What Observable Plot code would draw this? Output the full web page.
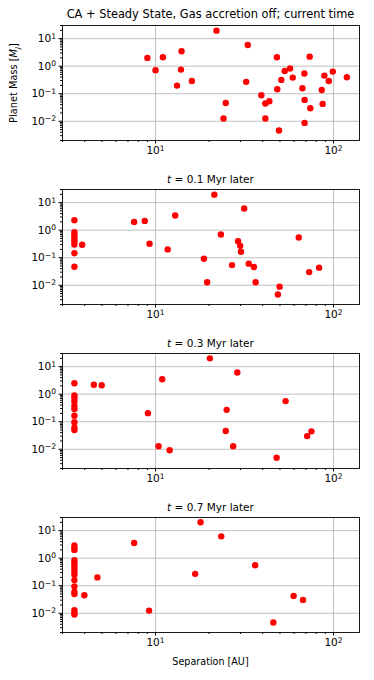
<!DOCTYPE html>
<html>
<head>
<meta charset="utf-8">
<script src="https://cdn.jsdelivr.net/npm/d3@7"></script>
<script src="https://cdn.jsdelivr.net/npm/@observablehq/plot@0.6"></script>
<style>
  html, body { margin: 0; padding: 0; background: white; }
  #wrap { position: relative; width: 374px; height: 680px; font-family: "DejaVu Sans", sans-serif; color: black; }
  .panel { position: absolute; left: 0; }
  .title { position: absolute; left: 62px; width: 297px; text-align: center; white-space: nowrap; line-height: 1; }
  .ylab { position: absolute; white-space: nowrap; font-size: 9.8px; transform: translate(-50%, -50%) rotate(-90deg); }
  .xlab { position: absolute; white-space: nowrap; font-size: 9.6px; transform: translate(-50%, -50%); }
</style>
</head>
<body>
<div id="wrap"></div>
<script>
// ---- data ----
const titles = [
  "CA + Steady State, Gas accretion off; current time",
  "<i>t</i> = 0.1 Myr later",
  "<i>t</i> = 0.3 Myr later",
  "<i>t</i> = 0.7 Myr later"
];
const yLabel = "Planet Mass [<i>M</i><sub style='font-size:70%'><i>J</i></sub>]";
const xLabel = "Separation [AU]";

const sep0 = [9.0, 10.0, 11.0, 14.0, 13.9, 13.2, 16.0, 22.0, 33.0, 32.3, 24.8, 24.1, 39.3, 41.4, 43.6, 41.4, 49.4, 48.1, 48.3, 50.9, 53.2, 57.0, 59.0, 66.9, 68.6, 68.8, 68.8, 73.5, 74.1, 85.9, 86.9, 88.9, 94.1, 99.1, 118.9];
const mass0 = [2.0, 0.71, 2.1, 3.5, 0.75, 0.197, 0.29, 19.5, 5.9, 0.27, 0.046, 0.0126, 0.088, 0.044, 0.053, 0.0126, 0.0046, 2.1, 0.145, 0.317, 0.67, 0.82, 0.385, 0.158, 0.54, 0.0596, 0.0087, 2.22, 0.0297, 0.137, 0.0427, 0.455, 0.29, 0.635, 0.395];

const sep1 = [3.5, 3.5, 3.5, 3.5, 3.5, 3.5, 3.5, 3.5, 3.5, 3.87, 7.58, 8.7, 9.25, 12.9, 11.7, 21.4, 18.7, 19.5, 23.3, 31.5, 29.1, 29.9, 30.2, 26.9, 33.4, 35.7, 36.5, 49.8, 48.7, 63.8, 73.0, 83.0];
const mass1 = [2.3, 0.85, 0.67, 0.55, 0.45, 0.38, 0.3, 0.145, 0.047, 0.295, 2.0, 2.17, 0.32, 3.4, 0.2, 19.5, 0.092, 0.0129, 0.70, 6.1, 0.40, 0.27, 0.165, 0.054, 0.061, 0.046, 0.0129, 0.0089, 0.0046, 0.54, 0.030, 0.0436];

const sep2 = [3.5, 3.5, 3.5, 3.5, 3.5, 3.5, 3.5, 3.5, 3.5, 3.5, 4.5, 4.98, 9.06, 10.9, 10.4, 12.0, 20.2, 28.8, 25.1, 24.8, 27.3, 53.8, 71.1, 75.2, 47.9];
const mass2 = [2.5, 0.89, 0.72, 0.55, 0.38, 0.29, 0.166, 0.096, 0.06, 0.05, 2.2, 2.1, 0.205, 3.5, 0.0128, 0.0092, 20, 6.1, 0.27, 0.046, 0.0128, 0.56, 0.030, 0.0447, 0.0049];

const sep3 = [3.5, 3.5, 3.5, 3.5, 3.5, 3.5, 3.5, 3.5, 3.5, 3.5, 3.5, 3.5, 3.5, 3.5, 3.5, 3.5, 3.98, 4.71, 7.58, 9.2, 16.7, 17.9, 23.4, 36.3, 45.9, 59.7, 67.4];
const mass3 = [2.9, 2.3, 2.0, 0.85, 0.7, 0.55, 0.42, 0.32, 0.25, 0.16, 0.095, 0.06, 0.05, 0.013, 0.0105, 0.009, 0.045, 0.2, 3.55, 0.0125, 0.27, 20.1, 6.2, 0.556, 0.0046, 0.0427, 0.0305];

const xDomain = [3, 140];
const yDomain = [0.002, 30];
const xMajor = [10, 100];
const yMajor = [0.01, 0.1, 1, 10];

// ---- helpers ----
const expLabel = d => "10^" + String(Math.round(Math.log10(d)));
function minors(lo, hi) {
  const out = [];
  for (let e = Math.floor(Math.log10(lo)); e <= Math.ceil(Math.log10(hi)); e++) {
    for (let m = 2; m <= 9; m++) {
      const v = m * Math.pow(10, e);
      if (v >= lo && v <= hi) out.push(v);
    }
  }
  return out;
}
const xMinor = minors(xDomain[0], xDomain[1]);
const yMinor = minors(yDomain[0], yDomain[1]);

const sets = [[sep0, mass0], [sep1, mass1], [sep2, mass2], [sep3, mass3]];
const wrap = document.getElementById("wrap");

sets.forEach(([sep, mass], i) => {
  const data = sep.map((s, k) => ({sep: s, mass: mass[k]}));
  const last = i === 3;
  const h = last ? 188 : 164;
  const chart = Plot.plot({
    width: 374,
    height: h,
    marginLeft: 62,
    marginRight: 15,
    marginTop: 25,
    marginBottom: h - 25 - 115,
    style: {fontFamily: "DejaVu Sans", fontSize: "10.5px", background: "white", color: "black", overflow: "visible"},
    x: {type: "log", domain: xDomain},
    y: {type: "log", domain: yDomain},
    marks: [
      Plot.gridX(xMajor, {stroke: "#b0b0b0", strokeOpacity: 1, strokeWidth: 0.8}),
      Plot.gridY(yMajor, {stroke: "#b0b0b0", strokeOpacity: 1, strokeWidth: 0.8}),
      Plot.dot(data, {x: "sep", y: "mass", r: 3.2, fill: "red", stroke: "none"}),
      Plot.frame({stroke: "black", strokeWidth: 0.9}),
      Plot.axisX({ticks: xMajor, tickFormat: expLabel, tickSize: 3.5, tickPadding: 3, label: null}),
      Plot.axisX({ticks: xMinor, tickFormat: () => "", tickSize: 2, label: null}),
      Plot.axisY({ticks: yMajor, tickFormat: expLabel, tickSize: 3.5, tickPadding: 3, label: null}),
      Plot.axisY({ticks: yMinor, tickFormat: () => "", tickSize: 2, label: null})
    ]
  });
  // render "10^n" tick labels as 10 with a superscript exponent
  chart.querySelectorAll("text").forEach(t => {
    const s = t.textContent;
    if (/^10\^-?\d+$/.test(s)) {
      const e = s.split("^")[1].replace("-", "\u2212");
      t.textContent = "10";
      const ts = document.createElementNS("http://www.w3.org/2000/svg", "tspan");
      ts.setAttribute("dy", "-0.45em");
      ts.setAttribute("font-size", "7.6px");
      ts.textContent = e;
      t.appendChild(ts);
    }
  });
  const div = document.createElement("div");
  div.className = "panel";
  div.style.top = (164 * i) + "px";
  div.appendChild(chart);
  wrap.appendChild(div);

  const t = document.createElement("div");
  t.className = "title";
  t.innerHTML = titles[i];
  if (i === 0) { t.style.fontSize = "11.4px"; t.style.top = (164 * i + 9) + "px"; }
  else { t.style.fontSize = "10.5px"; t.style.top = (164 * i + 9.5) + "px"; }
  wrap.appendChild(t);
});

const yl = document.createElement("div");
yl.className = "ylab";
yl.innerHTML = yLabel;
yl.style.left = "15px";
yl.style.top = "83px";
wrap.appendChild(yl);

const xl = document.createElement("div");
xl.className = "xlab";
xl.textContent = xLabel;
xl.style.left = "210.5px";
xl.style.top = "661px";
wrap.appendChild(xl);
</script>
</body>
</html>
